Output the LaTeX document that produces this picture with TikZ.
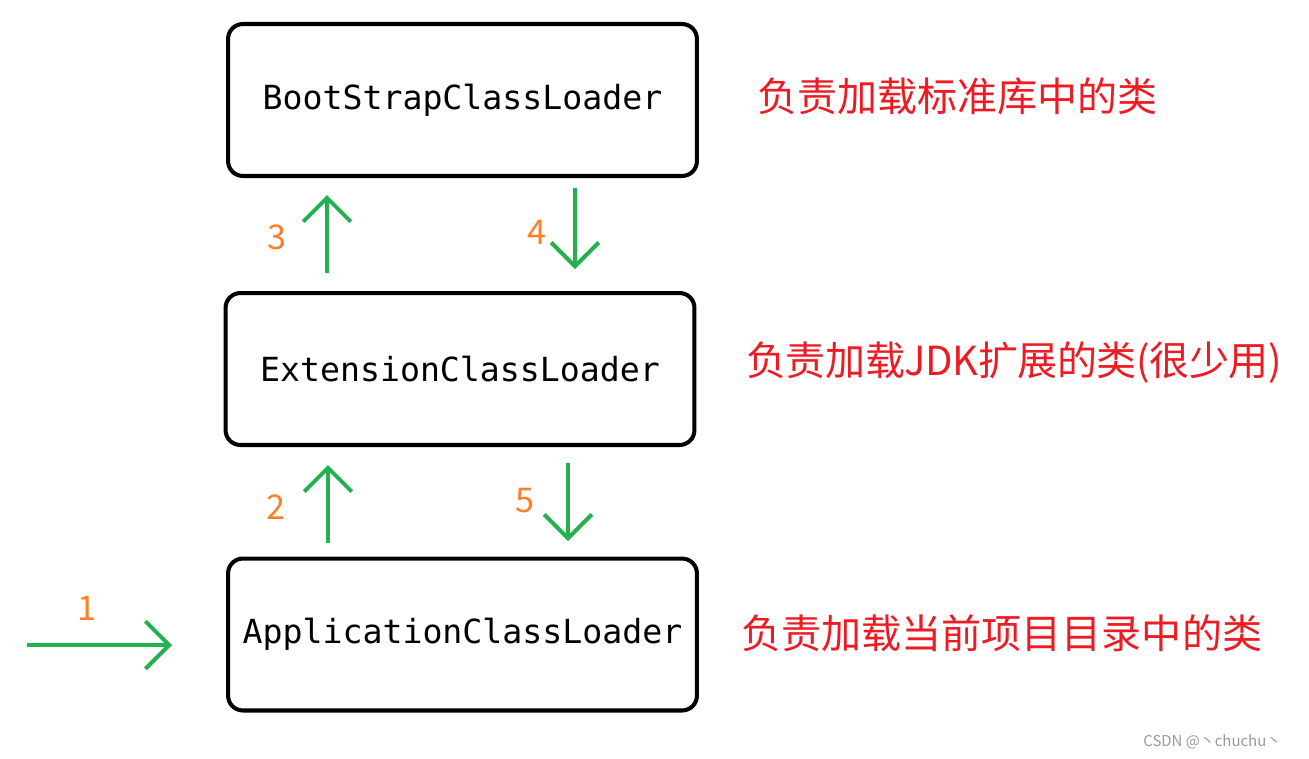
\documentclass[tikz,border=0pt]{standalone}
\usepackage{fontspec}
\setmainfont{Noto Sans CJK SC}
\newfontfamily\loaderfont{DejaVu Sans Mono}
\usetikzlibrary{arrows.meta}
\definecolor{pgreen}{RGB}{34,177,76}
\definecolor{porange}{RGB}{255,127,39}
\definecolor{pred}{RGB}{237,28,36}

\begin{document}
\begin{tikzpicture}[
  x=0.02cm,y=-0.02cm,
  loader/.style={draw=black,line width=2.3pt,rounded corners=8.5pt,
                 minimum width=9.38cm,minimum height=3.04cm,
                 font=\loaderfont\fontsize{18.9}{22}\selectfont},
  arr/.style={-{Straight Barb[length=13.5pt,width=27pt]},pgreen,line width=2.3pt},
  num/.style={font=\fontsize{19.4}{23}\selectfont,text=porange,inner sep=0pt},
  note/.style={font=\fontsize{22.8}{27}\selectfont,text=pred,anchor=west,inner sep=0pt}
]
  \useasboundingbox (0,0) rectangle (1309,758);

  % the three loaders
  \node[loader] (boot) at (462.5,100) {BootStrapClassLoader};
  \node[loader] (ext)  at (460,369)   {ExtensionClassLoader};
  \node[loader] (app)  at (462.5,634.5) {ApplicationClassLoader};

  % what each one loads
  \node[note] (bootnote) at (757,96)  {负责加载标准库中的类};
  \node[note] (extnote)  at (746,363) {\addfontfeature{LetterSpace=-1.2}负责加载JDK扩展的类(很少用)};
  \node[note] (appnote)  at (741,633) {负责加载当前项目目录中的类};

  % arrow ends
  \coordinate (in1) at (27,645);   \coordinate (out1) at (172,645);
  \coordinate (in2) at (328,543);  \coordinate (out2) at (328,465);
  \coordinate (in3) at (327,273);  \coordinate (out3) at (327,195);
  \coordinate (in4) at (575,188);  \coordinate (out4) at (575,269);
  \coordinate (in5) at (568,463);  \coordinate (out5) at (568,541);

  \draw[arr] (in1) -- (out1);
  \draw[arr] (in2) -- (out2);
  \draw[arr] (in3) -- (out3);
  \draw[arr] (in4) -- (out4);
  \draw[arr] (in5) -- (out5);

  % step numbers
  \node[num] (n1) at (87,608)  {1};
  \node[num] (n2) at (276,507) {2};
  \node[num] (n3) at (277,237) {3};
  \node[num] (n4) at (537,232) {4};
  \node[num] (n5) at (525,501) {5};

  \node[font=\fontsize{8.5}{10}\selectfont,text=black!40,anchor=west,inner sep=0pt]
    (mark) at (1143,742) {CSDN @丶chuchu丶};
\end{tikzpicture}
\end{document}
